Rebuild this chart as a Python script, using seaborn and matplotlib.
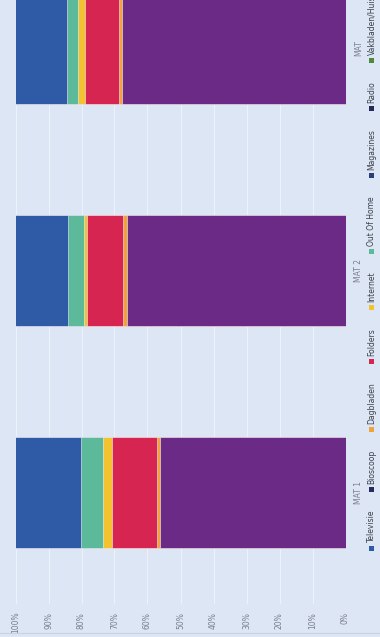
import numpy as np
import pandas as pd
import matplotlib
matplotlib.use("Agg")
import matplotlib.pyplot as plt
import seaborn as sns
from matplotlib.patches import Rectangle
from matplotlib.lines import Line2D

# --- data: share of media spend per period (%), stacked from top of column to base
periods = ["MAT 1", "MAT 2", "MAT"]
televisie = [20.0, 16.0, 15.5]
out_of_home = [6.4, 4.8, 3.5]
internet = [2.7, 0.9, 2.2]
folders = [13.9, 10.9, 10.2]
dagbladen = [0.9, 1.2, 0.9]
overig = [56.1, 66.2, 67.7]

value_ticks = list(range(0, 101, 10))
legend_labels = ["Televisie", "Bioscoop", "Dagbladen", "Folders", "Internet",
                 "Out Of Home", "Magazines", "Radio", "Vakbladen/Huis-aan-huis"]
legend_colors = ["#2f5ba6", "#262b5e", "#f0a33a", "#d62550", "#f2c230",
                 "#5cb99a", "#2c3e78", "#25285a", "#4f8a3c"]

BG = "#dde6f4"
W, H = 380, 637

sns.set_theme(style="white")
plt.rcParams["font.family"] = ["DejaVu Sans"]

fig = plt.figure(figsize=(W / 100, H / 100), dpi=100, facecolor=BG)


def fx(px):
    return px / W


def fy(py):
    return 1 - py / H


# plot area: 100% at x=15.5, 0% at x=345.5; three category bands of 222 px
ax = fig.add_axes([fx(15.5), fy(603.5), (345.5 - 15.5) / W, 666 / H])
ax.set_facecolor(BG)

segments = [  # top of stack first
    (televisie, "#2f5ba6"),
    (out_of_home, "#5cb99a"),
    (internet, "#f2c230"),
    (folders, "#d62550"),
    (dagbladen, "#f0a33a"),
    (overig, "#6a2a86"),
]
vals = np.array([s[0] for s in segments])
# cumulative length of each stacked segment measured from the base
cum = np.cumsum(vals[::-1], axis=0)[::-1]

for (seg, col), c in zip(segments, cum):
    df = pd.DataFrame({"periode": periods, "aandeel": c})
    sns.barplot(data=df, x="aandeel", y="periode", order=periods[::-1],
                orient="h", color=col, saturation=1, width=0.5,
                edgecolor="#f4f0f6", linewidth=0.4, ax=ax)

ax.set_xlim(100, 0)
ax.set_ylim(2.5, -0.5)
ax.set_xlabel("")
ax.set_ylabel("")
for s in ax.spines.values():
    s.set_visible(False)

ax.set_xticks(value_ticks)
ax.set_xticklabels([f"{v}%" for v in value_ticks], rotation=90, va="top", ha="center")
ax.tick_params(axis="x", length=0, pad=6, labelsize=5.5, labelcolor="#7a7f8a")
ax.grid(axis="x", color="#f2f5fb", alpha=0.8, lw=0.8)
ax.set_axisbelow(True)

ax.yaxis.tick_right()
ax.tick_params(axis="y", length=0, pad=6, labelsize=5.5, labelcolor="#7a7f8a")
for lab in ax.get_yticklabels():
    lab.set_rotation(90)
    lab.set_va("center")
    lab.set_ha("left")

# bottom border line of the chart area
fig.add_artist(Line2D([0, 1], [fy(632.5), fy(632.5)], color="#c8d2e4", lw=0.8))

# legend, laid out along the right edge reading bottom to top
fig.canvas.draw()
renderer = fig.canvas.get_renderer()
x_leg = 371.5
y = 548.0
msize = 5.0
for lab, col in zip(legend_labels, legend_colors):
    fig.add_artist(Rectangle((fx(x_leg - msize / 2), fy(y + msize / 2)),
                             msize / W, msize / H, transform=fig.transFigure,
                             facecolor=col, edgecolor="none"))
    t = fig.text(fx(x_leg), fy(y - msize / 2 - 3), lab, rotation=90,
                 rotation_mode="anchor", ha="left", va="center",
                 fontsize=5.5, color="#3a3f4a")
    bb = t.get_window_extent(renderer)
    y = y - msize / 2 - 3 - bb.height - 18 - msize / 2

fig.savefig("out.png", dpi=100, facecolor=BG)
